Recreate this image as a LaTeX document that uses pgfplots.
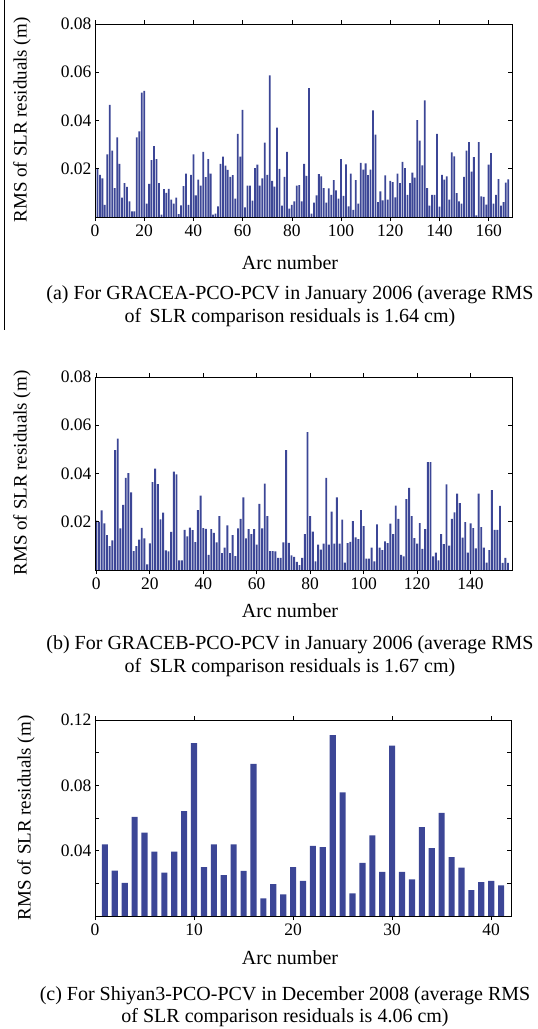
\documentclass[border=0pt]{standalone}
\usepackage{fontspec}
\setmainfont{Liberation Serif}
\usepackage{pgfplots}
\usepackage{pgfplotstable}
\pgfplotsset{compat=1.18}
\definecolor{barblue}{RGB}{60,70,150}

\pgfplotstableread{
x y
1 0.0203
2 0.0175
3 0.016
4 0.005
5 0.026
6 0.0465
7 0.0275
8 0.012
9 0.033
10 0.022
11 0.008
12 0.014
13 0.0125
14 0.0065
15 0.0023
16 0.0023
17 0.033
18 0.0355
19 0.0516
20 0.0523
21 0.0055
22 0.0137
23 0.0236
24 0.0294
25 0.024
26 0.014
27 0.001
28 0.0116
29 0.010
30 0.0117
31 0.0072
32 0.0055
33 0.008
34 0.0012
35 0.0048
36 0.0128
37 0.018
38 0.005
39 0.0175
40 0.026
41 0.009
42 0.0155
43 0.013
44 0.027
45 0.0165
46 0.024
47 0.018
48 0.001
49 0.0014
50 0.0044
51 0.022
52 0.025
53 0.0213
54 0.0195
55 0.0166
56 0.0174
57 0.0076
58 0.0345
59 0.025
60 0.0444
61 0.004
62 0.013
63 0.013
64 0.0068
65 0.0203
66 0.0217
67 0.013
68 0.016
69 0.0308
70 0.0175
71 0.0587
72 0.015
73 0.0126
74 0.0371
75 0.020
76 0.0047
77 0.0166
78 0.027
79 0.0035
80 0.005
81 0.0065
82 0.013
83 0.0132
84 0.0065
85 0.022
86 0.017
87 0.0534
88 0.0014
89 0.006
90 0.009
91 0.0178
92 0.0168
93 0.012
94 0.006
95 0.0119
96 0.0092
97 0.0153
98 0.011
99 0.0076
100 0.024
101 0.0088
102 0.0218
103 0.0044
104 0.018
105 0.003
106 0.0153
107 0.0055
108 0.0224
109 0.0196
110 0.0222
111 0.0174
112 0.0196
113 0.0442
114 0.0341
115 0.0062
116 0.0106
117 0.0069
118 0.0173
119 0.0072
120 0.015
121 0.0145
122 0.0081
123 0.018
124 0.014
125 0.0229
126 0.0203
127 0.0092
128 0.014
129 0.0184
130 0.0163
131 0.0402
132 0.0317
133 0.0214
134 0.0483
135 0.012
136 0.0047
137 0.0092
138 0.0092
139 0.0345
140 0.0043
141 0.0175
142 0.0155
143 0.0168
144 0.0072
145 0.0268
146 0.0251
147 0.0099
148 0.0065
149 0.0055
150 0.0166
151 0.0275
152 0.031
153 0.0188
154 0.0248
155 0.0007
156 0.031
157 0.0085
158 0.0083
159 0.0051
160 0.0217
161 0.0265
162 0.0055
163 0.0092
164 0.0157
165 0.0047
166 0.0062
167 0.0142
168 0.0156
}\dataA

\pgfplotstableread{
x y
0 0.0205
1 0.0200
2 0.0247
3 0.0193
4 0.0145
5 0.0099
6 0.0123
7 0.0497
8 0.0545
9 0.0173
10 0.0270
11 0.0382
12 0.0402
13 0.0322
14 0.0078
15 0.0099
16 0.0126
17 0.0175
18 0.0131
19 0.0023
20 0.0110
21 0.0364
22 0.0420
23 0.0356
24 0.0210
25 0.0238
26 0.0081
27 0.0077
28 0.0158
29 0.0408
30 0.0396
31 0.0040
32 0.0040
33 0.0166
34 0.0139
35 0.0176
36 0.0165
37 0.0116
38 0.0248
39 0.0308
40 0.0174
41 0.0171
42 0.0063
43 0.0169
44 0.0154
45 0.0115
46 0.0223
47 0.0070
48 0.0093
49 0.0185
50 0.0070
51 0.0145
52 0.0058
53 0.0173
54 0.0212
55 0.0301
56 0.0131
57 0.0169
58 0.0149
59 0.0169
60 0.0105
61 0.0274
62 0.0173
63 0.0358
64 0.0223
65 0.0078
66 0.0078
67 0.0077
68 0.0050
69 0.0050
70 0.0115
71 0.0497
72 0.0112
73 0.0061
74 0.0054
75 0.0034
76 0.0020
77 0.0050
78 0.0149
79 0.0572
80 0.0223
81 0.0159
82 0.0036
83 0.0105
84 0.0085
85 0.0109
86 0.0382
87 0.0105
88 0.0242
89 0.0109
90 0.0301
91 0.0109
92 0.0209
93 0.0031
94 0.0111
95 0.0117
96 0.0203
97 0.0135
98 0.0128
99 0.0248
100 0.0182
101 0.0047
102 0.0047
103 0.0093
104 0.0036
105 0.0189
106 0.0093
107 0.0082
108 0.0119
109 0.0111
110 0.0192
111 0.0149
112 0.0267
113 0.0212
114 0.0063
115 0.0057
116 0.0294
117 0.0340
118 0.0223
119 0.0132
120 0.0109
121 0.0194
122 0.0088
123 0.0169
124 0.0447
125 0.0447
126 0.0057
127 0.0072
128 0.0040
129 0.0149
130 0.0107
131 0.0355
132 0.0101
133 0.0212
134 0.0239
135 0.0317
136 0.0277
137 0.0134
138 0.0198
139 0.0072
140 0.0193
141 0.0174
142 0.0090
143 0.0317
144 0.0178
145 0.0093
146 0.0031
147 0.0082
148 0.0331
149 0.0166
150 0.0166
151 0.0266
152 0.0030
153 0.0050
154 0.0030
}\dataB

\pgfplotstableread{
x y
1 0.0439
2 0.0278
3 0.0203
4 0.0607
5 0.0510
6 0.0394
7 0.0266
8 0.0394
9 0.0642
10 0.1058
11 0.0300
12 0.0439
13 0.0250
14 0.0439
15 0.0276
16 0.0932
17 0.0108
18 0.0195
19 0.0132
20 0.0300
21 0.0215
22 0.0430
23 0.0422
24 0.1108
25 0.0757
26 0.0138
27 0.0325
28 0.0493
29 0.0270
30 0.1043
31 0.0270
32 0.0225
33 0.0544
34 0.0416
35 0.0631
36 0.0361
37 0.0296
38 0.0158
39 0.0207
40 0.0215
41 0.0187
}\dataC

\pgfplotsset{
  rmsax/.style={
    scale only axis,
    anchor=south west,
    width=417bp,
    height=193bp,
    ymin=0,
    tick align=inside,
    major tick length=4bp,
    axis line style={line width=0.7pt},
    every tick/.style={black, line width=0.6pt},
    tick label style={font=\fontsize{17.5bp}{20bp}\selectfont},
    scaled y ticks=false,
    scaled x ticks=false,
    ybar,
    bar shift=0pt,
    axis on top,
  },
}

\begin{document}
\begin{tikzpicture}
\path[use as bounding box] (0,0) rectangle (538bp,-1029bp);
\draw[line width=0.8bp] (4bp,0) -- (4bp,-330bp);

% (a)
\begin{axis}[rmsax, at={(95bp,-217bp)},
  xmin=0, xmax=169.5, ymax=0.08,
  xtick={0,20,40,60,80,100,120,140,160},
  xticklabels={0,20,40,60,80,100,120,140,160},
  ytick={0.02,0.04,0.06,0.08},
  yticklabels={0.02,0.04,0.06,0.08},
  bar width=0.72]
\addplot[fill=barblue, draw=none] table[x=x,y=y] {\dataA};
\end{axis}
\node[rotate=90, font=\fontsize{19bp}{22bp}\selectfont] at (22bp,-120bp) {RMS of SLR residuals (m)};
\node[font=\fontsize{20bp}{23bp}\selectfont] at (290bp,-263bp) {Arc number};
\node[font=\fontsize{20bp}{23bp}\selectfont] at (290bp,-295bp) {(a) For GRACEA-PCO-PCV in January 2006 (average RMS};
\node[font=\fontsize{20bp}{23bp}\selectfont] at (290bp,-318bp) {of\, SLR comparison residuals is 1.64 cm)};

% (b)
\begin{axis}[rmsax, at={(95bp,-570bp)},
  xmin=-0.5, xmax=155.5, ymax=0.08,
  xtick={0,20,40,60,80,100,120,140},
  xticklabels={0,20,40,60,80,100,120,140},
  ytick={0.02,0.04,0.06,0.08},
  yticklabels={0.02,0.04,0.06,0.08},
  bar width=0.72]
\addplot[fill=barblue, draw=none] table[x=x,y=y] {\dataB};
\end{axis}
\node[rotate=90, font=\fontsize{19bp}{22bp}\selectfont] at (22bp,-473bp) {RMS of SLR residuals (m)};
\node[font=\fontsize{20bp}{23bp}\selectfont] at (290bp,-611bp) {Arc number};
\node[font=\fontsize{20bp}{23bp}\selectfont] at (290bp,-645bp) {(b) For GRACEB-PCO-PCV in January 2006 (average RMS};
\node[font=\fontsize{20bp}{23bp}\selectfont] at (290bp,-668bp) {of\, SLR comparison residuals is 1.67 cm)};

% (c)
\begin{axis}[rmsax, at={(95bp,-916bp)},
  width=416bp, height=196bp,
  xmin=0, xmax=42, ymax=0.12,
  xtick={0,10,20,30,40},
  xticklabels={0,10,20,30,40},
  ytick={0,0.02,0.04,0.06,0.08,0.10,0.12},
  yticklabels={,,0.04,,0.08,,0.12},
  bar width=0.62]
\addplot[fill=barblue, draw=none] table[x=x,y=y] {\dataC};
\end{axis}
\node[rotate=90, font=\fontsize{19bp}{22bp}\selectfont] at (26bp,-818bp) {RMS of SLR residuals (m)};
\node[font=\fontsize{20bp}{23bp}\selectfont] at (290bp,-958bp) {Arc number};
\node[font=\fontsize{20bp}{23bp}\selectfont] at (285bp,-996bp) {(c) For Shiyan3-PCO-PCV in December 2008 (average RMS};
\node[font=\fontsize{20bp}{23bp}\selectfont] at (285bp,-1018bp) {of SLR comparison residuals is 4.06 cm)};
\end{tikzpicture}
\end{document}
